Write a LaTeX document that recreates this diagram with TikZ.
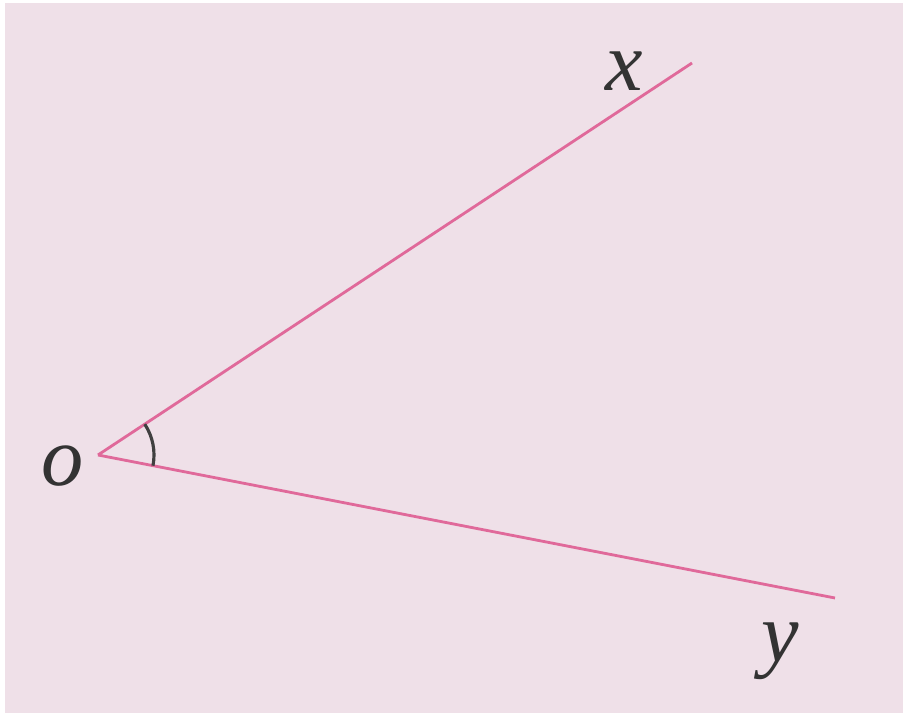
\documentclass[tikz,border=0pt]{standalone}
\usepackage{fontspec}
\setmainfont{Liberation Serif}
\usetikzlibrary{calc}
\definecolor{paper}{HTML}{EFE0E8}
\definecolor{rayline}{HTML}{E0699A}
\tikzset{
  ray/.style={draw=rayline,line width=0.8pt},
  lbl/.style={font=\fontsize{24}{28}\selectfont\itshape,text=black!80}
}
\begin{document}
\begin{tikzpicture}
\fill[white] (0,0) rectangle (9.03,7.13);
\fill[paper] (0.05,0) rectangle (9.03,7.10);
\useasboundingbox (0,0) rectangle (9.03,7.13);

\coordinate (O) at (0.98,2.58);
\coordinate (X) at (6.92,6.50);
\coordinate (Y) at (8.35,1.15);

\draw[ray] (O) -- (X);
\draw[ray] (O) -- (Y);
\draw[line width=0.9pt,black!75] ([shift={(33.4:0.56)}]O) arc (33.4:-11:0.56);

\node[lbl] (lo) at (0.63,2.47) {o};
\node[lbl] (lx) at (6.24,6.42) {x};
\node[lbl] (ly) at (7.80,0.62) {y};
\end{tikzpicture}
\end{document}
